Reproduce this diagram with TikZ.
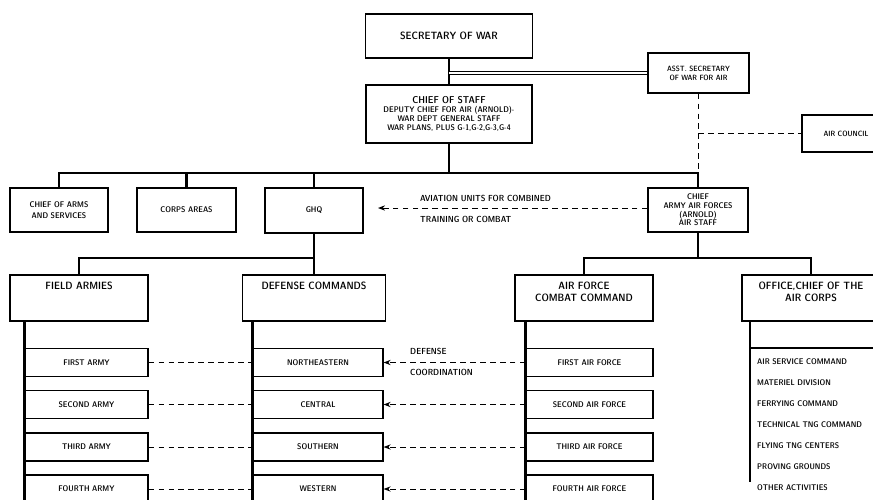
\documentclass[tikz,border=0pt]{standalone}
\usepackage{amsmath}
\usetikzlibrary{arrows.meta}

\tikzset{
  unit/.style 2 args={draw, line width=1pt, align=center, inner sep=1pt,
    minimum width=#1*0.03cm, minimum height=#2*0.03cm,
    font=\sffamily\fontseries{sbc}\fontsize{7}{9}\selectfont},
  big/.style={font=\sffamily\fontseries{sbc}\fontsize{9}{10.5}\selectfont},
  small/.style={font=\sffamily\fontseries{sbc}\fontsize{6.5}{7.5}\selectfont},
  note/.style={font=\sffamily\fontseries{sbc}\fontsize{7.5}{8}\selectfont, inner sep=0pt},
  chain/.style={line width=2.2pt},
  link/.style={line width=0.8pt, dash pattern=on 5pt off 3.5pt},
}

\begin{document}
\begin{tikzpicture}[x=0.03cm, y=-0.03cm]
\useasboundingbox (0,0) rectangle (873,499);

% top of the chart
\node[unit={167}{44}, big] (sow) at (449,36) {SECRETARY OF WAR};
\node[unit={101}{40}, small] (asw) at (698.5,73) {ASST. SECRETARY\\OF WAR FOR AIR};
\node[unit={166}{58}, font=\sffamily\fontseries{sbc}\fontsize{7}{7.8}\selectfont] (cos) at (449,114)
  {{\fontsize{8.5}{9.5}\selectfont CHIEF OF STAFF}\\DEPUTY CHIEF FOR AIR (ARNOLD)-\\WAR DEPT GENERAL STAFF\\WAR PLANS, PLUS G-1,G-2,G-3,G-4};
\node[unit={88}{37}, small] (council) at (846,133.5) {AIR COUNCIL};

\draw[chain] (sow) -- (cos);
\draw[double, double distance=1.6pt, line width=0.7pt] (sow.south |- asw.west) -- (asw.west);
\coordinate (bar) at (449,173);
\draw[chain] (cos) -- (bar);
\draw[link] (asw.south) -- (asw.south |- bar);
\draw[link] (asw.south |- council) -- (council);

% second row
\node[unit={98}{44}] (arms) at (59,210) {CHIEF OF ARMS\\AND SERVICES};
\node[unit={99}{44}] (corps) at (186.5,210) {CORPS AREAS};
\node[unit={98}{45}] (ghq) at (314,210.5) {GHQ};
\node[unit={100}{44}, font=\sffamily\fontseries{sbc}\fontsize{7}{7.4}\selectfont] (aaf) at (698,210)
  {CHIEF\\ARMY AIR FORCES\\(ARNOLD)\\AIR STAFF};

\draw[chain] (arms.north) -- (arms.north |- bar) -- (aaf.north |- bar) -- (aaf.north);
\draw[chain] (corps.north) -- (corps.north |- bar);
\draw[chain] (ghq.north) -- (ghq.north |- bar);

\coordinate (gtip) at (378,208);
\draw[link, -{Stealth[length=6pt]}] (aaf.west |- gtip) -- (gtip);
\node[note, anchor=west] (avu) at (420,198) {AVIATION UNITS FOR COMBINED};
\node[note, anchor=west] (trc) at (420,219) {TRAINING OR COMBAT};

% third row
\node[unit={138}{46}, big] (field) at (79,298) {FIELD ARMIES\\~\\~};
\node[unit={143}{46}, big] (dc) at (314,298) {DEFENSE COMMANDS\\~\\~};
\node[unit={138}{46}, big] (afcc) at (584,298) {AIR FORCE\\COMBAT COMMAND\\~};
\node[unit={138}{46}, big] (occ) at (811,298) {OFFICE,CHIEF OF THE\\AIR CORPS\\~};

\coordinate (gbar) at (314,258);
\coordinate (abar) at (698,258);
\draw[chain] (ghq) -- (gbar);
\draw[chain] (field.north) -- (field.north |- gbar) -- (gbar);
\draw[chain] (dc.north) -- (dc.north |- gbar);
\draw[chain] (aaf) -- (abar);
\draw[chain] (afcc.north) -- (afcc.north |- abar) -- (occ.north |- abar) -- (occ.north);

% armies, commands and air forces
\foreach \y/\fa/\dc/\af [count=\i] in {362.5/FIRST ARMY/NORTHEASTERN/FIRST AIR FORCE,
    404.5/SECOND ARMY/CENTRAL/SECOND AIR FORCE,
    447/THIRD ARMY/SOUTHERN/THIRD AIR FORCE,
    489/FOURTH ARMY/WESTERN/FOURTH AIR FORCE} {
  \node[unit={123}{28}] (fa\i) at (86.5,\y) {\fa};
  \node[unit={130}{28}] (dc\i) at (318,\y) {\dc};
  \node[unit={127}{28}] (af\i) at (589.5,\y) {\af};
  \draw[link] (fa\i) -- (dc\i);
  \draw[link, -{Stealth[length=6pt]}] (af\i) -- (dc\i);
}
\draw[chain] (fa1.west |- field.south) -- (fa4.south west);
\draw[chain] (dc1.west |- dc.south) -- (dc4.south west);
\draw[chain] (af1.west |- afcc.south) -- (af4.south west);

\node[note, anchor=west] (dco) at (410,351) {DEFENSE};
\node[note, anchor=west] (dcn) at (410,372) {COORDINATION};

% air corps activities
\coordinate (oc) at (750,348);
\draw[chain] (occ.south -| oc) -- ++(0,160);
\draw[line width=1pt] (oc) -- ++(130,0);
\foreach \t [count=\i] in {AIR SERVICE COMMAND, MATERIEL DIVISION, FERRYING COMMAND,
    TECHNICAL TNG COMMAND, FLYING TNG CENTERS, PROVING GROUNDS, OTHER ACTIVITIES} {
  \node[note, anchor=west, font=\sffamily\fontseries{sbc}\fontsize{7}{8}\selectfont] (oa\i) at (757,341+21*\i) {\t};
}
\end{tikzpicture}
\end{document}
